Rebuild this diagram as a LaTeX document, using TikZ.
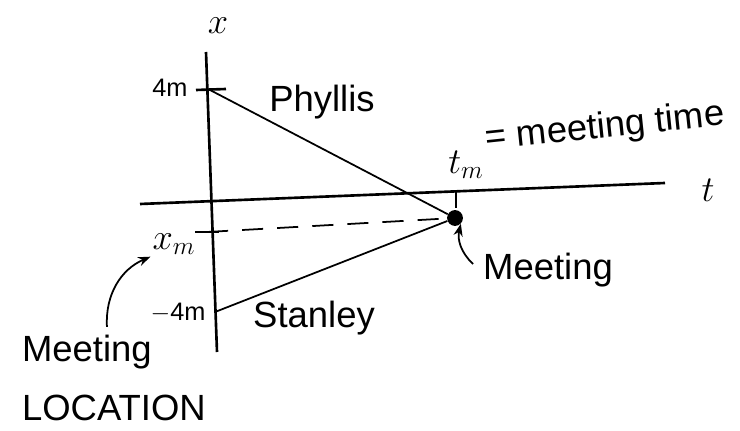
\documentclass[tikz,border=0pt]{standalone}
\usepackage{fontspec}
\setmainfont{Liberation Sans}
\usetikzlibrary{arrows.meta}
\begin{document}
\begin{tikzpicture}[
  x=0.2mm, y=-0.2mm,
  axis/.style={line width=1.5pt},
  world/.style={line width=1pt},
  lbl/.style={font=\huge, inner sep=1pt},
  note/.style={-{Stealth[length=7pt]}, line width=1pt}
]
  \useasboundingbox (0,0) rectangle (740,431);

  % axes
  \coordinate (xtop) at (206,52);
  \coordinate (xbot) at (217,352);
  \coordinate (tleft) at (140,204);
  \coordinate (tright) at (665,183);
  \draw[axis] (xbot) -- (xtop);
  \draw[axis] (tleft) -- (tright);
  \node[lbl] (xlab) at (218,26) {$x$};
  \node[lbl] (tlab) at (708,190) {$t$};

  % events
  \coordinate (p0) at (210,90);
  \coordinate (s0) at (215,312);
  \coordinate (xm) at (207,232);
  \coordinate (tm) at (456,192);
  \node[circle, fill, inner sep=0pt, minimum size=9pt] (meet) at (455,218) {};
  \draw[axis] (p0) ++(-14,0) -- ++(30,-1);
  \draw[axis] (xm) ++(-12,0) -- ++(24,0);
  \draw[axis] (tm) -- ++(0,16);
  \draw[world] (p0) -- (meet);
  \draw[world] (s0) -- (meet);
  \draw[world, dashed, dash pattern=on 12pt off 8pt] (xm) -- (meet);

  % labels
  \node[lbl, font=\Large] (p0lab) at (170,88) {4m};
  \node[lbl, font=\Large] (s0lab) at (178,313) {$-$4m};
  \node[lbl] (xmlab) at (174,244) {$x_m$};
  \node[lbl] (phyl) at (322,102) {Phyllis};
  \node[lbl] (stan) at (314,318) {Stanley};
  \node[lbl] (tmlab) at (466,165) {$t_m$};
  \node[lbl, rotate=6] (tmnote) at (605,128) {= meeting time};
  \node[lbl] (mlab) at (548,270) {Meeting};
  \node[lbl, anchor=west] (mloc) at (20,352) {Meeting};
  \node[lbl, anchor=west] (mloc2) at (20,408) {LOCATION};

  \draw[note] (mlab.west) ++(-8,-6) to[bend left=30] (meet.south east);
  \draw[note] (mloc.north) ++(20,-6) to[bend left=35] (xmlab.south west);
\end{tikzpicture}
\end{document}
